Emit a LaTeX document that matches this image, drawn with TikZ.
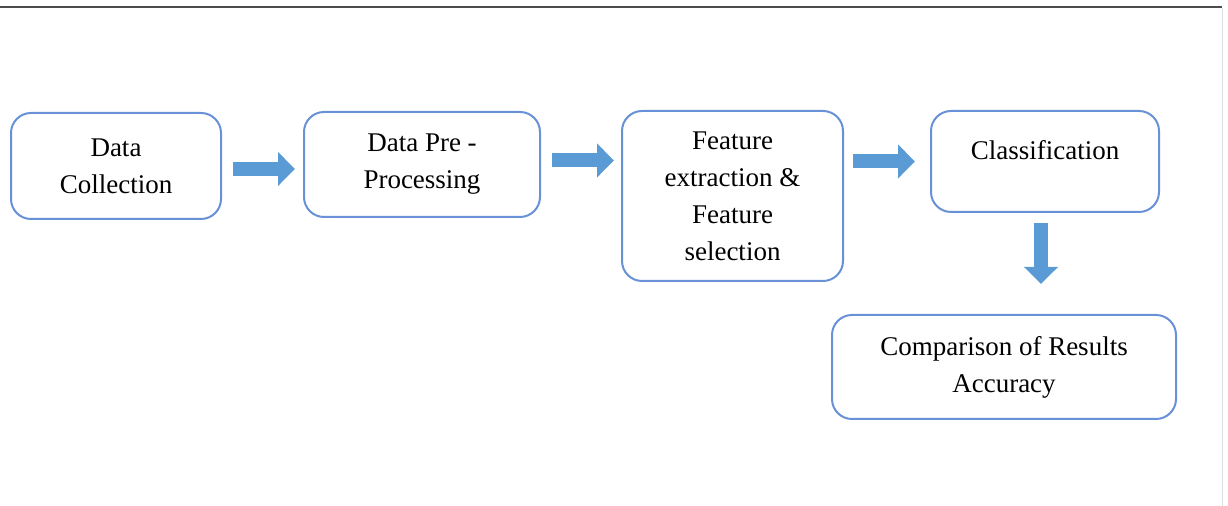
\documentclass[tikz,border=0pt]{standalone}
\usepackage{fontspec}
\setmainfont{Liberation Serif}
\usetikzlibrary{arrows.meta}

\definecolor{boxblue}{RGB}{105,145,215}
\definecolor{arrowblue}{RGB}{91,155,213}

\tikzset{
  stage/.style={draw=boxblue, line width=1pt, rounded corners=10pt, fill=white,
    align=center, font=\fontsize{13.5}{18.5}\selectfont, inner sep=0pt},
  blockarrow/.style={draw=arrowblue, line width=7pt,
    -{Triangle[width=16.5pt, length=8.5pt]}}
}

\begin{document}
\begin{tikzpicture}[x=0.5pt, y=-0.5pt]
\useasboundingbox (0,0) rectangle (1228,506);
% frame of the page
\draw[black!70, line width=1.2pt] (0,7) -- (1222,7);
\draw[black!12, line width=0.8pt] (1222.5,8) -- (1222.5,506);

\node[stage, minimum width=105pt, minimum height=53pt] (DC) at (116,166)
  {Data\\Collection};
\node[stage, minimum width=118pt, minimum height=52.5pt] (DP) at (422,164.5)
  {Data Pre -\\Processing};
\node[stage, minimum width=110.5pt, minimum height=85pt] (FE) at (732.5,196)
  {Feature\\extraction \&\\Feature\\selection};
\node[stage, minimum width=114pt, minimum height=50.5pt,
  text height=10pt, text depth=12pt] (CL) at (1045,161.5) {Classification};
\node[stage, minimum width=172pt, minimum height=52pt] (CR) at (1004,367)
  {Comparison of Results\\Accuracy};

\draw[blockarrow, shorten <=5.5pt, shorten >=4pt]
  ([yshift=-1.5pt]DC.east) -- ([yshift=-1.5pt]DC.east -| DP.west);
\draw[blockarrow, shorten <=5.5pt, shorten >=3.5pt]
  ([yshift=2pt]DP.east) -- ([yshift=2pt]DP.east -| FE.west);
\draw[blockarrow, shorten <=4.5pt, shorten >=7.5pt]
  (FE.east |- CL.west) -- (CL.west);
\draw[blockarrow, shorten <=5pt, shorten >=15pt]
  ([xshift=-2pt]CL.south) -- ([xshift=-2pt]CL.south |- CR.north);
\end{tikzpicture}
\end{document}
